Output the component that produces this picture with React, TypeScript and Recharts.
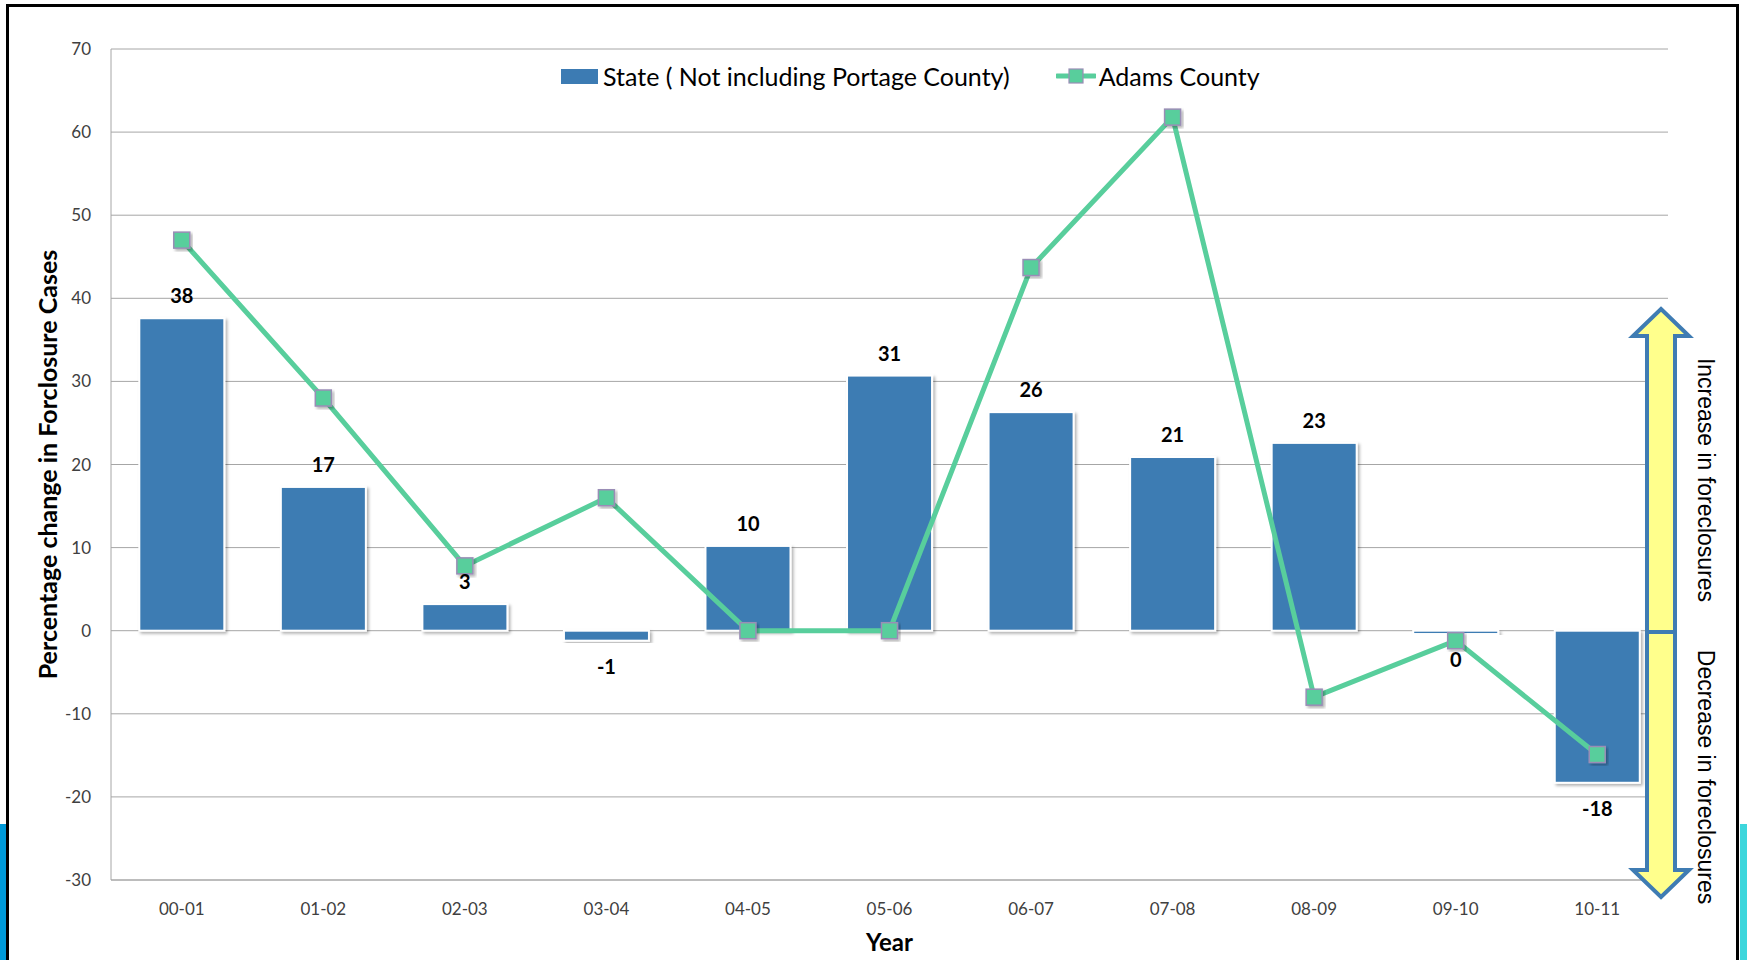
import {
  ComposedChart,
  Bar,
  Line,
  XAxis,
  YAxis,
  CartesianGrid,
  Legend,
  LabelList,
} from "recharts";

const years = ["00-01", "01-02", "02-03", "03-04", "04-05", "05-06", "06-07", "07-08", "08-09", "09-10", "10-11"];
const stateChange = [37.6, 17.3, 3.2, -1.2, 10.2, 30.7, 26.3, 20.9, 22.6, -0.4, -18.3];
const adamsChange = [47.0, 28.0, 7.8, 16.0, 0, 0, 43.7, 61.8, -8.0, -1.2, -14.9];
const yTicks = [-30, -20, -10, 0, 10, 20, 30, 40, 50, 60, 70];

const data = years.map((year, i) => ({
  year,
  state: stateChange[i],
  adams: adamsChange[i],
}));

const BAR_BLUE = "#3C7BB3";
const LINE_GREEN = "#58CE9C";
const MARKER_EDGE = "#9A8DB6";
const FONT = "Lato, 'Open Sans', sans-serif";

function BarShape(props: any) {
  const { x, y, width, height } = props;
  const top = Math.min(y, y + height);
  const h = Math.abs(height);
  return (
    <rect
      x={x}
      y={top}
      width={width}
      height={Math.max(h, 1)}
      fill={BAR_BLUE}
      stroke="#ffffff"
      strokeWidth={2}
      filter="url(#barShadow)"
    />
  );
}

function SquareDot(props: any) {
  const { cx, cy } = props;
  if (cx == null || cy == null) return null;
  return (
    <rect
      x={cx - 8}
      y={cy - 8}
      width={16}
      height={16}
      fill={LINE_GREEN}
      stroke={MARKER_EDGE}
      strokeWidth={1.5}
      filter="url(#barShadow)"
    />
  );
}

function BarLabel(props: any) {
  const { x, y, width, height, value } = props;
  const top = Math.min(y, y + height);
  const bottom = Math.max(y, y + height);
  const cx = x + width / 2;
  const ly = value >= 0 ? top - 23 : bottom + 25;
  return (
    <text
      x={cx}
      y={ly}
      textAnchor="middle"
      dominantBaseline="central"
      fontFamily={FONT}
      fontWeight={700}
      fontSize={20}
      fill="#000"
    >
      {String(Math.round(value))}
    </text>
  );
}

function LegendContent() {
  return (
    <div style={{ display: "flex", alignItems: "center", fontFamily: FONT, fontSize: 25, color: "#000", whiteSpace: "nowrap" }}>
      <span style={{ width: 37, height: 15, background: BAR_BLUE, display: "inline-block", marginRight: 5 }} />
      <span>State ( Not including Portage County)</span>
      <svg width={40} height={18} style={{ marginLeft: 46, marginRight: 3 }}>
        <line x1={1} y1={9} x2={39} y2={9} stroke={LINE_GREEN} strokeWidth={5} strokeLinecap="round" />
        <rect x={13} y={2} width={14} height={14} fill={LINE_GREEN} stroke={MARKER_EDGE} strokeWidth={1.2} />
      </svg>
      <span>Adams County</span>
    </div>
  );
}

function DirectionArrow() {
  const cx = 1661;
  const shaft = 14;
  const head = 28;
  const topTip = 309;
  const headH = 27;
  const mid = 632;
  const bottomTip = 897;
  const up = [
    [cx, topTip],
    [cx + head, topTip + headH],
    [cx + shaft, topTip + headH],
    [cx + shaft, mid],
    [cx - shaft, mid],
    [cx - shaft, topTip + headH],
    [cx - head, topTip + headH],
  ];
  const down = [
    [cx, bottomTip],
    [cx + head, bottomTip - headH],
    [cx + shaft, bottomTip - headH],
    [cx + shaft, mid],
    [cx - shaft, mid],
    [cx - shaft, bottomTip - headH],
    [cx - head, bottomTip - headH],
  ];
  const pts = (a: number[][]) => a.map((p) => p.join(",")).join(" ");
  const sideFont = "'Liberation Sans', Arial, sans-serif";
  return (
    <svg width={1747} height={960} style={{ position: "absolute", left: 0, top: 0, pointerEvents: "none" }}>
      <polygon points={pts(up)} fill="#FFFF8C" stroke="#3F7CB3" strokeWidth={4} strokeLinejoin="miter" />
      <polygon points={pts(down)} fill="#FFFF8C" stroke="#3F7CB3" strokeWidth={4} strokeLinejoin="miter" />
      <text
        x={1706}
        y={480}
        transform="rotate(90 1706 480)"
        textAnchor="middle"
        dominantBaseline="central"
        fontFamily={sideFont}
        fontSize={23}
        fill="#000"
      >
        Increase in foreclosures
      </text>
      <text
        x={1706}
        y={777}
        transform="rotate(90 1706 777)"
        textAnchor="middle"
        dominantBaseline="central"
        fontFamily={sideFont}
        fontSize={23}
        fill="#000"
      >
        Decrease in foreclosures
      </text>
    </svg>
  );
}

export default function App() {
  return (
    <div style={{ position: "absolute", left: 0, top: 0, width: 1747, height: 960, background: "#fff", overflow: "hidden" }}>
      {/* side strips and frame */}
      <div style={{ position: "absolute", left: 0, top: 824, width: 7, height: 136, background: "#009AD9" }} />
      <div style={{ position: "absolute", left: 1740, top: 824, width: 7, height: 136, background: "#3DD6DC" }} />
      <div
        style={{
          position: "absolute",
          left: 6,
          top: 4,
          width: 1733,
          height: 970,
          border: "3px solid #000",
          boxSizing: "border-box",
        }}
      />
      <div style={{ position: "absolute", left: 0, top: 0 }}>
        <ComposedChart
          width={1747}
          height={960}
          data={data}
          margin={{ top: 49, right: 79, left: 51, bottom: 30 }}
          barCategoryGap="20%"
        >
          <defs>
            <filter id="barShadow" x="-20%" y="-20%" width="140%" height="140%">
              <feDropShadow dx={2} dy={2} stdDeviation={1.5} floodColor="#000" floodOpacity={0.3} />
            </filter>
          </defs>
          <CartesianGrid horizontal vertical={false} stroke="#A6A6A6" strokeWidth={1} />
          <XAxis
            dataKey="year"
            height={50}
            tickLine={false}
            axisLine={{ stroke: "#A6A6A6" }}
            tick={{ fontFamily: FONT, fontSize: 17, fill: "#404040" }}
            tickMargin={17}
            interval={0}
            label={({ viewBox }: any) => (
              <text
                x={viewBox.x + viewBox.width / 2}
                y={viewBox.y + 61}
                textAnchor="middle"
                dominantBaseline="central"
                fontFamily={FONT}
                fontWeight={700}
                fontSize={24}
                fill="#000"
              >
                Year
              </text>
            )}
          />
          <YAxis
            width={60}
            domain={[-30, 70]}
            ticks={yTicks}
            interval={0}
            tickLine={false}
            axisLine={{ stroke: "#A6A6A6" }}
            tick={{ fontFamily: FONT, fontSize: 17, fill: "#404040" }}
            tickMargin={14}
            label={({ viewBox }: any) => (
              <text
                x={viewBox.x - 4}
                y={viewBox.y + viewBox.height / 2}
                transform={`rotate(-90 ${viewBox.x - 4} ${viewBox.y + viewBox.height / 2})`}
                textAnchor="middle"
                dominantBaseline="central"
                fontFamily={FONT}
                fontWeight={700}
                fontSize={25}
                fill="#000"
              >
                Percentage change in Forclosure Cases
              </text>
            )}
          />
          <Legend
            layout="horizontal"
            verticalAlign="middle"
            align="center"
            content={<LegendContent />}
            wrapperStyle={{ top: 61, left: 561, width: "auto" }}
          />
          <Bar dataKey="state" name="State ( Not including Portage County)" shape={<BarShape />} isAnimationActive={false}>
            <LabelList dataKey="state" content={<BarLabel />} />
          </Bar>
          <Line
            dataKey="adams"
            name="Adams County"
            type="linear"
            stroke={LINE_GREEN}
            strokeWidth={5}
            dot={<SquareDot />}
            activeDot={false}
            isAnimationActive={false}
          />
        </ComposedChart>
      </div>
      <DirectionArrow />
    </div>
  );
}
